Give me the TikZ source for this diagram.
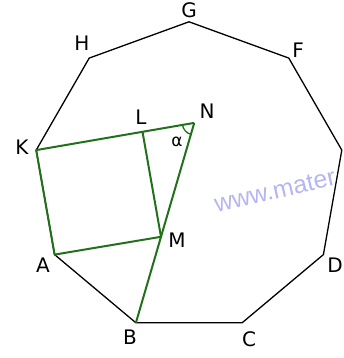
\documentclass[tikz,border=0pt]{standalone}
\usepackage{fontspec}
\setmainfont{DejaVu Sans}
\newfontfamily\wmfont{Liberation Sans}
\usetikzlibrary{calc}
\definecolor{sqgreen}{RGB}{34,112,26}
\definecolor{wmblue}{RGB}{182,182,238}
\begin{document}
\begin{tikzpicture}[x=1pt,y=-1pt,
  edge/.style={line width=1.3pt, black, line join=round},
  sq/.style={line width=2pt, sqgreen, line join=round},
  lab/.style={font=\fontsize{20}{20}\selectfont, inner sep=0pt},
  wm/.style={font=\wmfont\fontsize{25}{25}\selectfont, text=wmblue, inner sep=0pt}]
\useasboundingbox (0,0) rectangle (344,358);
\node[wm, rotate=13] (wmk) at (275,191) {www.mater};
% nonagon vertices
\coordinate (G) at (189,21.8);
\coordinate (H) at (89.2,58.1);
\coordinate (K) at (36.2,150.1);
\coordinate (A) at (54.6,254.6);
\coordinate (B) at (135.9,322.8);
\coordinate (C) at (242.1,322.8);
\coordinate (D) at (323.4,254.6);
\coordinate (E) at (341.8,150.1);
\coordinate (F) at (288.8,58.1);
% square
\coordinate (M) at (161,236.8);
\coordinate (L) at (142.5,131.8);
\coordinate (N) at (intersection of K--L and B--M);
\draw[edge] (K) -- (H) -- (G) -- (F) -- (E) -- (D) -- (C) -- (B) -- (A) -- (K);
\draw[sq] (N) -- (K) -- (A) -- (M);
\draw[sq] (L) -- (M);
\draw[sq] (B) -- (N);
\draw[sqgreen, line width=1.3pt] ([shift={(106.7:12)}]N) arc[start angle=106.7, end angle=170.4, radius=12];
% labels
\node[lab] (lG) at (189,10) {G};
\node[lab] (lH) at (82,43) {H};
\node[lab] (lF) at (298,50) {F};
\node[lab] (lN) at (207,111) {N};
\node[lab] (lL) at (141,117) {L};
\node[lab, font=\fontsize{17}{17}\selectfont] (la) at (177,142) {α};
\node[lab] (lK) at (22,147) {K};
\node[lab] (lM) at (177,240) {M};
\node[lab] (lA) at (43,265) {A};
\node[lab] (lB) at (130,337) {B};
\node[lab] (lC) at (249,339) {C};
\node[lab] (lD) at (335,265) {D};
\end{tikzpicture}
\end{document}
